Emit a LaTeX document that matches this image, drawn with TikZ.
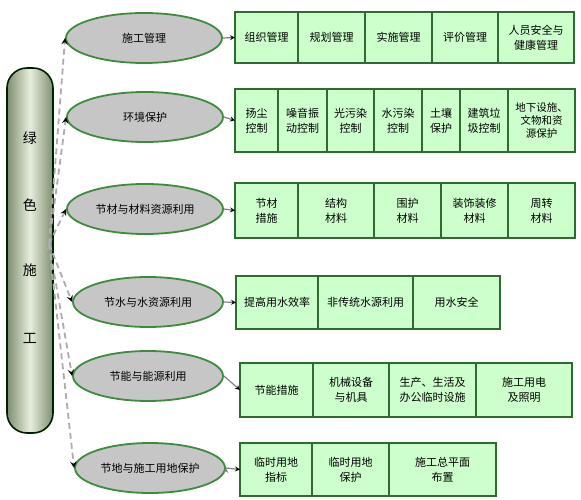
\documentclass[tikz,border=0pt]{standalone}
\usepackage{fontspec}
\setmainfont{Noto Sans CJK SC}
\usepackage{tikz}
\usetikzlibrary{positioning}
\usetikzlibrary{shapes.geometric}

\definecolor{cellfill}{HTML}{CCFFCC}
\definecolor{celldraw}{HTML}{2F6B2F}
\definecolor{ovalfill}{HTML}{C6C6C6}
\definecolor{ovaldraw}{HTML}{3C8C3C}
\definecolor{pillside}{HTML}{7E8E70}
\definecolor{pillmid}{HTML}{E6EEDD}

\tikzset{
  topic/.style={ellipse,draw=ovaldraw,line width=1.8pt,fill=ovalfill,
    minimum width=156pt,minimum height=50pt,inner sep=0pt,font=\fontsize{11}{13}\selectfont},
  cell/.style={rectangle,draw=celldraw,line width=1.1pt,fill=cellfill,outer sep=0pt,
    inner sep=1pt,align=center,font=\fontsize{11}{15}\selectfont},
  link/.style={-stealth,draw=gray,line width=1.2pt},
  feed/.style={-stealth,draw=gray!65,line width=1.8pt,dash pattern=on 6pt off 4pt}
}

\begin{document}
\begin{tikzpicture}[x=1pt,y=-1pt]
\useasboundingbox (0,0) rectangle (581,500);

\draw[draw=black!70!green!40!black,line width=1.6pt,rounded corners=20pt,
  left color=pillside,right color=pillside,middle color=pillmid]
  (7,68) rectangle (53,433);
\node[font=\fontsize{14}{16}\selectfont] (lv) at (30,138) {绿};
\node[font=\fontsize{14}{16}\selectfont] (se) at (30,205) {色};
\node[font=\fontsize{14}{16}\selectfont] (sh) at (30,270) {施};
\node[font=\fontsize{14}{16}\selectfont] (gong) at (30,338) {工};
\coordinate (hub) at (49,244);

\node[topic] (t1) at (144,38) {施工管理};
\node[topic] (t2) at (145,117) {环境保护};
\node[topic] (t3) at (145,209) {节材与材料资源利用};
\node[topic,minimum width=150pt] (t4) at (148,302) {节水与水资源利用};
\node[topic,minimum width=150pt] (t5) at (148,376) {节能与能源利用};
\node[topic,minimum width=150pt] (t6) at (150,468) {节地与施工用地保护};

\node[cell,anchor=north west,minimum width=63pt,minimum height=51pt] (a1) at (235,12) {组织管理};
\node[cell,minimum width=67pt,minimum height=51pt,right=0pt of a1] (a2) {规划管理};
\node[cell,minimum width=67pt,minimum height=51pt,right=0pt of a2] (a3) {实施管理};
\node[cell,minimum width=66pt,minimum height=51pt,right=0pt of a3] (a4) {评价管理};
\node[cell,minimum width=76pt,minimum height=51pt,right=0pt of a4] (a5) {人员安全与\\健康管理};

\node[cell,anchor=north west,minimum width=43pt,minimum height=63pt] (b1) at (235,89) {扬尘\\控制};
\node[cell,minimum width=49pt,minimum height=63pt,right=0pt of b1] (b2) {噪音振\\动控制};
\node[cell,minimum width=47pt,minimum height=63pt,right=0pt of b2] (b3) {光污染\\控制};
\node[cell,minimum width=48pt,minimum height=63pt,right=0pt of b3] (b4) {水污染\\控制};
\node[cell,minimum width=38pt,minimum height=63pt,right=0pt of b4] (b5) {土壤\\保护};
\node[cell,minimum width=48pt,minimum height=63pt,right=0pt of b5] (b6) {建筑垃\\圾控制};
\node[cell,minimum width=67pt,minimum height=63pt,right=0pt of b6,font=\fontsize{10.5}{13}\selectfont] (b7) {地下设施、\\文物和资\\源保护};

\node[cell,anchor=north west,minimum width=63pt,minimum height=55pt] (c1) at (235,183) {节材\\措施};
\node[cell,minimum width=76pt,minimum height=55pt,right=0pt of c1] (c2) {结构\\材料};
\node[cell,minimum width=67pt,minimum height=55pt,right=0pt of c2] (c3) {围护\\材料};
\node[cell,minimum width=67pt,minimum height=55pt,right=0pt of c3] (c4) {装饰装修\\材料};
\node[cell,minimum width=67pt,minimum height=55pt,right=0pt of c4] (c5) {周转\\材料};

\node[cell,anchor=north west,minimum width=82pt,minimum height=53pt] (d1) at (236,276) {提高用水效率};
\node[cell,minimum width=95pt,minimum height=53pt,right=0pt of d1] (d2) {非传统水源利用};
\node[cell,minimum width=87pt,minimum height=53pt,right=0pt of d2] (d3) {用水安全};

\node[cell,anchor=north west,minimum width=73pt,minimum height=54pt] (e1) at (240,363) {节能措施};
\node[cell,minimum width=76pt,minimum height=54pt,right=0pt of e1] (e2) {机械设备\\与机具};
\node[cell,minimum width=87pt,minimum height=54pt,right=0pt of e2] (e3) {生产、生活及\\办公临时设施};
\node[cell,minimum width=96pt,minimum height=54pt,right=0pt of e3] (e4) {施工用电\\及照明};

\node[cell,anchor=north west,minimum width=72pt,minimum height=53pt] (f1) at (240,443) {临时用地\\指标};
\node[cell,minimum width=77pt,minimum height=53pt,right=0pt of f1] (f2) {临时用地\\保护};
\node[cell,minimum width=107pt,minimum height=53pt,right=0pt of f2] (f3) {施工总平面\\布置};

\path[feed]
  (hub) edge (t1.west)
        edge (t2.west)
        edge (t3.west)
        edge (t4.west)
        edge (t5.west)
        edge (t6.west);
\path[link]
  (t1.east) edge (a1.west)
  (t2.east) edge (b1.west)
  (t3.east) edge (c1.west)
  (t4.east) edge (d1.west)
  (t5.east) edge (e1.west)
  (t6.east) edge (f1.west);
\end{tikzpicture}
\end{document}
